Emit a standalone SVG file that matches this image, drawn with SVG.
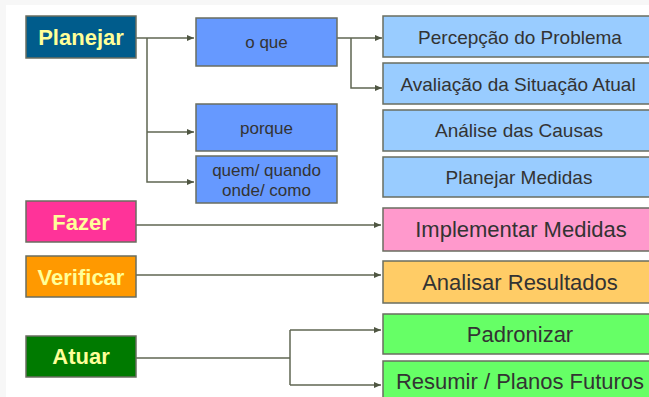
<svg xmlns="http://www.w3.org/2000/svg" width="649" height="397" viewBox="0 0 649 397">
<defs>
<style>
.box{stroke:#6a6e60;stroke-width:1.5}
.lt{font-family:"Liberation Sans",Arial,sans-serif;font-weight:bold;font-size:22px;fill:#FFFF99;text-anchor:middle}
.mt{font-family:"Liberation Sans",Arial,sans-serif;font-size:17px;fill:#333333;text-anchor:middle}
.rt{font-family:"Liberation Sans",Arial,sans-serif;font-size:19px;fill:#333333;text-anchor:middle}
.bt{font-family:"Liberation Sans",Arial,sans-serif;font-size:22px;fill:#333333;text-anchor:middle}
.c{fill:none;stroke:#5f6652;stroke-width:1.5}
</style>
<marker id="ah" markerUnits="userSpaceOnUse" markerWidth="8" markerHeight="8" refX="7" refY="4" orient="auto">
<path d="M0,1 L7,4 L0,7 Z" fill="#4f5642"/>
</marker>
</defs>
<rect x="0" y="0" width="649" height="397" fill="#f7f7f7"/>
<rect x="6" y="5" width="643" height="392" fill="#ffffff"/>

<g id="connectors">
<path class="c" d="M136,38 H194" marker-end="url(#ah)"/>
<path class="c" d="M147,38 V182 H194" marker-end="url(#ah)"/>
<path class="c" d="M147,132 H194" marker-end="url(#ah)"/>
<path class="c" d="M337,38 H382" marker-end="url(#ah)"/>
<path class="c" d="M351,38 V88 H382" marker-end="url(#ah)"/>
<path class="c" d="M136,225 H381" marker-end="url(#ah)"/>
<path class="c" d="M136,275 H381" marker-end="url(#ah)"/>
<path class="c" d="M136,358 H290"/>
<path class="c" d="M290,330 V385"/>
<path class="c" d="M290,330 H381" marker-end="url(#ah)"/>
<path class="c" d="M290,385 H381" marker-end="url(#ah)"/>
</g>

<g id="planejar"><rect class="box" x="26" y="16" width="110" height="42" fill="#005C8C"/><text class="lt" x="81" y="45">Planejar</text></g>
<g id="fazer"><rect class="box" x="26" y="201" width="110" height="41" fill="#FF3399"/><text class="lt" x="81" y="230">Fazer</text></g>
<g id="verificar"><rect class="box" x="26" y="256" width="110" height="41" fill="#FF9900"/><text class="lt" x="81" y="285">Verificar</text></g>
<g id="atuar"><rect class="box" x="26" y="336" width="110" height="41" fill="#007A00"/><text class="lt" x="81" y="364">Atuar</text></g>

<g id="oque"><rect class="box" x="196" y="18" width="141" height="48" fill="#6699FF"/><text class="mt" x="266.5" y="48">o que</text></g>
<g id="porque"><rect class="box" x="196" y="104" width="141" height="47" fill="#6699FF"/><text class="mt" x="266.5" y="134">porque</text></g>
<g id="quem"><rect class="box" x="196" y="156" width="141" height="47" fill="#6699FF"/><text class="mt" x="266.5" y="176">quem/ quando</text><text class="mt" x="266.5" y="196">onde/ como</text></g>

<g id="percepcao"><rect class="box" x="383" y="16" width="272" height="41" fill="#99CCFF"/><text class="rt" x="520" y="44">Percepção do Problema</text></g>
<g id="avaliacao"><rect class="box" x="383" y="63" width="272" height="41" fill="#99CCFF"/><text class="rt" x="518" y="91">Avaliação da Situação Atual</text></g>
<g id="analise"><rect class="box" x="383" y="110" width="272" height="41" fill="#99CCFF"/><text class="rt" x="519" y="137">Análise das Causas</text></g>
<g id="planejarmedidas"><rect class="box" x="383" y="157" width="272" height="40" fill="#99CCFF"/><text class="rt" x="519" y="184">Planejar Medidas</text></g>
<g id="implementar"><rect class="box" x="383" y="208" width="272" height="43" fill="#FF99CC"/><text class="bt" x="521" y="237">Implementar Medidas</text></g>
<g id="analisar"><rect class="box" x="383" y="261" width="272" height="42" fill="#FFCC66"/><text class="bt" x="520" y="290">Analisar Resultados</text></g>
<g id="padronizar"><rect class="box" x="383" y="314" width="272" height="40" fill="#66FF66"/><text class="bt" x="520" y="342">Padronizar</text></g>
<g id="resumir"><rect class="box" x="383" y="361" width="272" height="42" fill="#66FF66"/><text class="bt" x="520" y="389">Resumir / Planos Futuros</text></g>
</svg>
